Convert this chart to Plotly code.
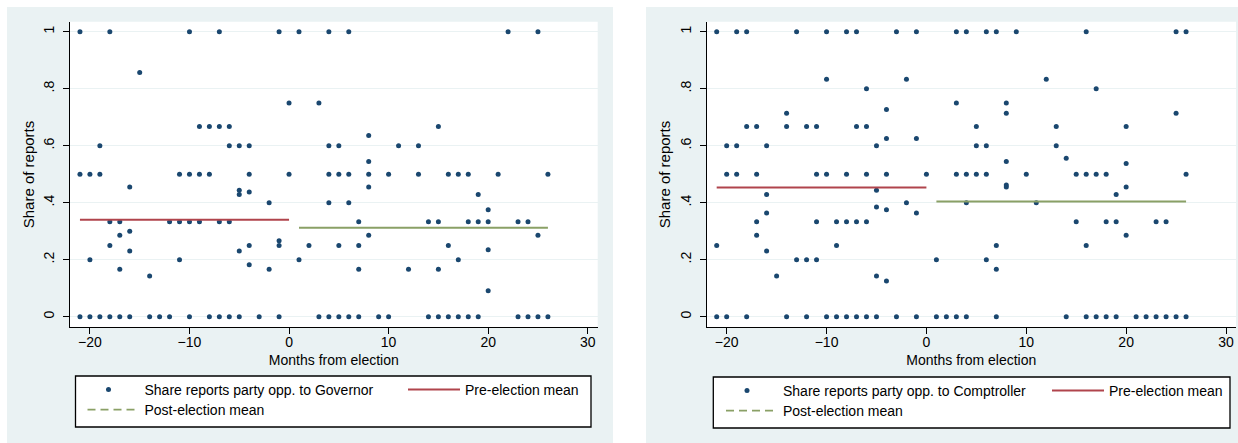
import plotly.graph_objects as go

# ---------------- data ----------------
gov_months = [-21, -21, -21, -20, -20, -20, -19, -19, -19, -18, -18, -18, -18,
              -17, -17, -17, -17, -16, -16, -16, -16, -15, -14, -14, -13, -12, -12,
              -11, -11, -11, -10, -10, -10, -10, -9, -9, -9, -8, -8, -8,
              -7, -7, -7, -7, -6, -6, -6, -6, -5, -5, -5, -5, -5,
              -4, -4, -4, -4, -4, -3, -2, -2, -1, -1, -1, -1, 0, 0,
              1, 1, 2, 3, 3, 4, 4, 4, 4, 4, 5, 5, 5, 5, 6, 6, 6, 6,
              7, 7, 7, 7, 8, 8, 8, 8, 8, 9, 10, 10, 11, 12, 13, 13, 14, 14,
              15, 15, 15, 15, 16, 16, 16, 17, 17, 17, 18, 18, 18, 19, 19, 19,
              20, 20, 20, 20, 21, 22, 23, 23, 24, 24, 25, 25, 25, 26, 26]
gov_share = [1, 0.5, 0, 0.5, 0.2, 0, 0.6, 0.5, 0, 1, 0.333, 0.25, 0,
             0.333, 0.286, 0.167, 0, 0.455, 0.3, 0.231, 0, 0.857, 0.143, 0, 0, 0.333, 0,
             0.5, 0.333, 0.2, 1, 0.5, 0.333, 0, 0.667, 0.5, 0.333, 0.667, 0.5, 0,
             1, 0.667, 0.333, 0, 0.667, 0.6, 0.333, 0, 0.6, 0.444, 0.429, 0.231, 0,
             0.6, 0.5, 0.438, 0.25, 0.182, 0, 0.4, 0.167, 1, 0.267, 0.25, 0, 0.75, 0.5,
             1, 0.2, 0.25, 0.75, 0, 1, 0.6, 0.5, 0.4, 0, 0.6, 0.5, 0.25, 0, 1, 0.5, 0.4, 0,
             0.333, 0.25, 0.167, 0, 0.636, 0.545, 0.5, 0.455, 0.286, 0, 0.5, 0, 0.6, 0.167, 0.6, 0.5, 0.333, 0,
             0.667, 0.333, 0.167, 0, 0.5, 0.25, 0, 0.5, 0.2, 0, 0.5, 0.333, 0, 0.429, 0.333, 0,
             0.375, 0.333, 0.235, 0.091, 0.5, 1, 0.333, 0, 0.333, 0, 1, 0.286, 0, 0.5, 0]

comp_months = [-21, -21, -21, -20, -20, -20, -19, -19, -19, -18, -18, -18,
               -17, -17, -17, -17, -16, -16, -16, -16, -15, -14, -14, -14, -13, -13,
               -12, -12, -12, -11, -11, -11, -11, -10, -10, -10, -10, -9, -9, -9,
               -8, -8, -8, -8, -7, -7, -7, -7, -6, -6, -6, -6, -6,
               -5, -5, -5, -5, -5, -4, -4, -4, -4, -4, -3, -3, -2, -2,
               -1, -1, -1, -1, 0, 1, 1, 2, 3, 3, 3, 3, 4, 4, 4, 4, 5, 5, 5,
               6, 6, 6, 6, 7, 7, 7, 7, 8, 8, 8, 8, 8, 9, 10, 11, 12, 13, 13, 14, 14,
               15, 15, 16, 16, 16, 16, 17, 17, 17, 18, 18, 18, 19, 19, 19,
               20, 20, 20, 20, 21, 22, 23, 23, 24, 24, 25, 25, 25, 26, 26, 26]
comp_share = [1, 0.25, 0, 0.6, 0.5, 0, 1, 0.6, 0.5, 1, 0.667, 0,
              0.667, 0.5, 0.333, 0.286, 0.6, 0.429, 0.364, 0.231, 0.143, 0.714, 0.667, 0, 1, 0.2,
              0.667, 0.2, 0, 0.667, 0.5, 0.333, 0.2, 1, 0.833, 0.5, 0, 0.333, 0.25, 0,
              1, 0.5, 0.333, 0, 1, 0.667, 0.333, 0, 0.8, 0.667, 0.5, 0.333, 0,
              0.6, 0.444, 0.385, 0.143, 0, 0.727, 0.625, 0.5, 0.375, 0.125, 1, 0, 0.833, 0.4,
              1, 0.625, 0.364, 0, 0.5, 0.2, 0, 0, 1, 0.75, 0.5, 0, 1, 0.5, 0.4, 0, 0.667, 0.6, 0.5,
              1, 0.6, 0.5, 0.2, 1, 0.25, 0.167, 0, 0.75, 0.714, 0.545, 0.462, 0.455, 1, 0.5, 0.4, 0.833, 0.667, 0.6, 0.556, 0,
              0.5, 0.333, 1, 0.5, 0.25, 0, 0.8, 0.5, 0, 0.5, 0.333, 0, 0.429, 0.333, 0,
              0.667, 0.538, 0.455, 0.286, 0, 0, 0.333, 0, 0.333, 0, 1, 0.714, 0, 1, 0.5, 0]

gov_pre_mean = 0.34
gov_post_mean = 0.312
comp_pre_mean = 0.453
comp_post_mean = 0.404

x_ticks = [-20, -10, 0, 10, 20, 30]
y_ticks = [0, 0.2, 0.4, 0.6, 0.8, 1]
y_tick_labels = ["0", ".2", ".4", ".6", ".8", "1"]

# ---------------- styling ----------------
W, H = 1238, 443
FONT = "Liberation Sans, Arial, Helvetica, sans-serif"
NAVY = "#1a476f"
RED = "#b0444c"
GREEN = "#8aa066"
PANEL_BG = "#eaf2f3"
FS = 14


def px(x):
    return x / W


def py(y):
    return 1 - y / H


fig = go.Figure()


def add_panel(months, share, pre_mean, post_mean, xa, ya, label, legs):
    pre_x = [m for m in months if m <= 0]
    post_x = [m for m in months if m > 0]
    fig.add_trace(go.Scatter(
        x=months, y=share, mode="markers", xaxis=xa, yaxis=ya,
        marker=dict(size=5, color=NAVY, line=dict(width=0)),
        name=label, legend=legs[0], showlegend=True))
    fig.add_trace(go.Scatter(
        x=[min(pre_x), max(pre_x)], y=[pre_mean, pre_mean], mode="lines",
        xaxis=xa, yaxis=ya, line=dict(color=RED, width=2),
        name="Pre-election mean", legend=legs[1], showlegend=True))
    fig.add_trace(go.Scatter(
        x=[min(post_x), max(post_x)], y=[post_mean, post_mean], mode="lines",
        xaxis=xa, yaxis=ya, line=dict(color=GREEN, width=2),
        name="Post-election mean", showlegend=False))
    # legend sample (dashed, as in the reference legend)
    fig.add_trace(go.Scatter(
        x=[None], y=[None], mode="lines", xaxis=xa, yaxis=ya,
        line=dict(color=GREEN, width=1.6, dash="8px,5px"),
        name="Post-election mean", legend=legs[2], showlegend=True))


add_panel(gov_months, gov_share, gov_pre_mean, gov_post_mean, "x", "y",
          "Share reports party opp. to Governor", ["legend", "legend2", "legend3"])
add_panel(comp_months, comp_share, comp_pre_mean, comp_post_mean, "x2", "y2",
          "Share reports party opp. to Comptroller", ["legend4", "legend5", "legend6"])

tickfont = dict(family=FONT, size=FS, color="black")


def xaxis(domain, anchor):
    return dict(domain=domain, anchor=anchor, range=[-22, 31], tickvals=x_ticks,
                ticks="outside", ticklen=6, tickwidth=1.2, tickcolor="black",
                ticklabelstandoff=-4,
                showline=True, linecolor="black", linewidth=1.3, showgrid=False,
                zeroline=False, tickfont=tickfont, automargin=False,
                title=dict(text="Months from election", font=tickfont, standoff=5))


def yaxis(domain, anchor):
    return dict(domain=domain, anchor=anchor, range=[-0.037, 1.035],
                tickvals=y_ticks, ticktext=y_tick_labels, tickangle=-90,
                ticks="outside", ticklen=6, tickwidth=1.2, tickcolor="black",
                ticklabelstandoff=3,
                showline=True, linecolor="black", linewidth=1.3,
                showgrid=True, gridcolor=PANEL_BG, gridwidth=1.2,
                zeroline=False, tickfont=tickfont, automargin=False,
                title=dict(text="Share of reports",
                           font=dict(family=FONT, size=15, color="black"), standoff=3))


ydom = [py(327.3), py(21.7)]


def legend(xpx, ypx, iw):
    return dict(x=px(xpx), y=py(ypx), xanchor="left", yanchor="middle",
                bgcolor="rgba(0,0,0,0)", borderwidth=0, orientation="v",
                itemwidth=iw, font=dict(family=FONT, size=FS, color="black"),
                tracegroupgap=0)


shapes = [
    # panel backgrounds
    dict(type="rect", xref="paper", yref="paper", x0=px(7), x1=px(613), y0=py(443), y1=py(7),
         fillcolor=PANEL_BG, line=dict(width=0), layer="below"),
    dict(type="rect", xref="paper", yref="paper", x0=px(646), x1=px(1238), y0=py(443), y1=py(7),
         fillcolor=PANEL_BG, line=dict(width=0), layer="below"),
    # white plot regions
    dict(type="rect", xref="x domain", yref="y domain", x0=0, x1=1, y0=0, y1=1,
         fillcolor="white", line=dict(width=0), layer="below"),
    dict(type="rect", xref="x2 domain", yref="y2 domain", x0=0, x1=1, y0=0, y1=1,
         fillcolor="white", line=dict(width=0), layer="below"),
    # legend boxes
    dict(type="rect", xref="paper", yref="paper", x0=px(75.5), x1=px(591), y0=py(427), y1=py(376),
         fillcolor="white", line=dict(width=1.3, color="black"), layer="below"),
    dict(type="rect", xref="paper", yref="paper", x0=px(713.3), x1=px(1230), y0=py(428), y1=py(377),
         fillcolor="white", line=dict(width=1.3, color="black"), layer="below"),
]

fig.update_layout(
    template="none",
    width=W, height=H,
    margin=dict(l=0, r=0, t=0, b=0, autoexpand=False),
    paper_bgcolor="white", plot_bgcolor="white",
    font=dict(family=FONT, size=FS, color="black"),
    xaxis=xaxis([px(70), px(597.7)], "y"),
    yaxis=yaxis(ydom, "x"),
    xaxis2=xaxis([px(706.7), px(1236)], "y2"),
    yaxis2=yaxis(ydom, "x2"),
    legend=legend(72.5, 390, 62),
    legend2=legend(403, 390, 52),
    legend3=legend(82.5, 410, 52),
    legend4=legend(711, 391, 62),
    legend5=legend(1047, 391, 52),
    legend6=legend(721, 411, 52),
    shapes=shapes,
    showlegend=True,
)

fig.write_html(
    "out.html",
    config={"displayModeBar": False},
    post_script="document.body.style.margin='0';document.body.style.overflow='hidden';",
)
